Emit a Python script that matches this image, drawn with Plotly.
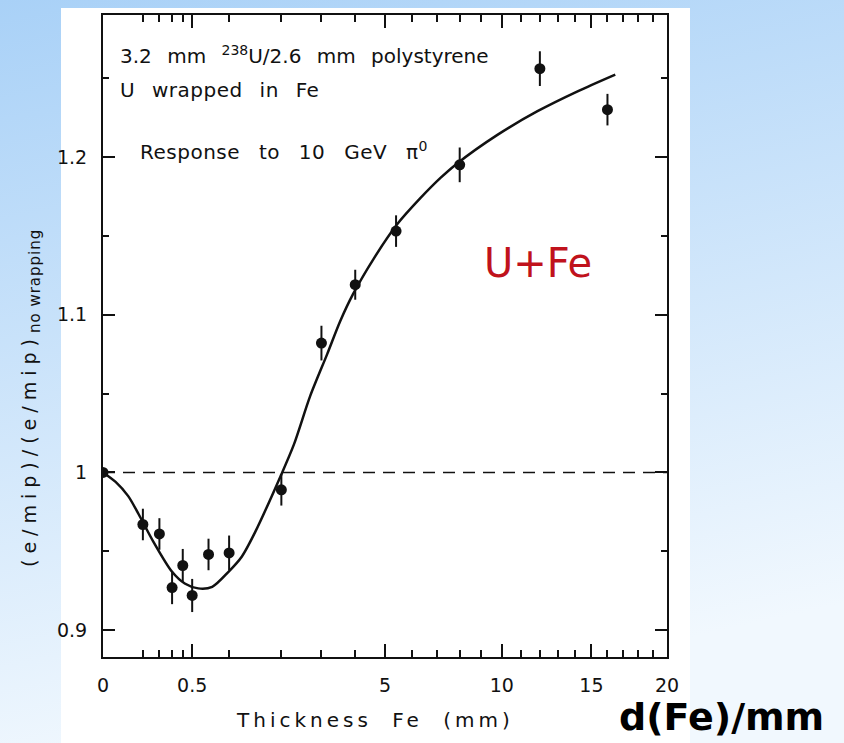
import base64
import numpy as np
import plotly.graph_objects as go

# Measured response of U/polystyrene calorimeter with Fe-wrapped uranium plates
thickness_mm = [0.0, 0.1, 0.2, 0.3, 0.4, 0.5, 0.7, 1.0, 2.0, 3.0, 4.0, 5.4, 8.0, 12.0, 16.0]
response_ratio = [1.000, 0.967, 0.961, 0.927, 0.941, 0.922, 0.948, 0.949, 0.989,
                  1.082, 1.119, 1.153, 1.195, 1.256, 1.230]
response_err = [0.0, 0.010, 0.010, 0.0105, 0.0105, 0.0105, 0.010, 0.011, 0.010,
                0.011, 0.0095, 0.010, 0.011, 0.011, 0.010]

# Smooth curve through the measurements
fit_thickness_mm = [0.0, 0.01, 0.04, 0.08, 0.16, 0.30, 0.42, 0.57, 0.75, 0.99, 1.21,
                    1.46, 1.98, 2.29, 2.70, 3.16, 3.54, 3.93, 4.61, 5.44, 6.34,
                    7.16, 7.86, 9.78, 11.87, 14.16, 16.5]
fit_ratio = [1.000, 0.994, 0.985, 0.9735, 0.956, 0.937, 0.9296, 0.9265, 0.9275, 0.937,
             0.9466, 0.9625, 0.9975, 1.0176, 1.0485, 1.075, 1.096, 1.113, 1.1356,
             1.1573, 1.174, 1.1867, 1.1956, 1.214, 1.229, 1.2416, 1.2522]

x_tick_values = [0, 0.5, 5, 10, 15, 20]
x_tick_labels = ["0", "0.5", "5", "10", "15", "20"]
x_minor_values = [0.1, 0.2, 0.3, 0.4, 1, 2, 3, 4, 6, 7, 8, 9, 11, 12, 13, 14,
                  16, 17, 18, 19]
y_tick_values = [0.9, 1.0, 1.1, 1.2]
y_tick_labels = ["0.9", "1", "1.1", "1.2"]
y_minor_values = [0.95, 1.05, 1.15, 1.25]
reference_level = 1.0

# Page geometry
W, H = 844, 743
ML, MR, MT, MB = 103, 177, 15, 86
PW, PH = W - ML - MR, H - MT - MB


def fx(px):
    return (px - ML) / PW


def fy(py):
    return (H - MB - py) / PH


# Thickness axis uses a square-root scale
def sq(v):
    return np.sqrt(np.asarray(v, dtype=float))


FONT = "DejaVu Sans"
INK = "#111111"

fig = go.Figure()

fig.add_trace(go.Scatter(
    x=sq(fit_thickness_mm), y=fit_ratio, mode="lines",
    line=dict(color=INK, width=2.5, shape="spline", smoothing=0.8),
    hoverinfo="skip", showlegend=False,
))

fig.add_trace(go.Scatter(
    x=sq(thickness_mm), y=response_ratio, mode="markers",
    marker=dict(color=INK, size=11),
    error_y=dict(type="data", array=response_err, color=INK, thickness=2, width=0),
    showlegend=False,
))

# Slide background gradient behind the scanned figure
svg = ('<svg xmlns="http://www.w3.org/2000/svg" width="844" height="743">'
       '<defs><linearGradient id="g" x1="0" y1="0" x2="0.25" y2="1">'
       '<stop offset="0" stop-color="#a9d1f7"/>'
       '<stop offset="1" stop-color="#f1f8fe"/>'
       '</linearGradient></defs>'
       '<rect width="844" height="743" fill="url(#g)"/></svg>')
bg_src = "data:image/svg+xml;base64," + base64.b64encode(svg.encode()).decode()

fig.add_layout_image(dict(
    source=bg_src, xref="paper", yref="paper",
    x=fx(0), y=fy(0), sizex=W / PW, sizey=H / PH,
    xanchor="left", yanchor="top", sizing="stretch", layer="below",
))

shapes = [
    dict(type="rect", xref="paper", yref="paper", x0=fx(61), x1=fx(690),
         y0=fy(743), y1=fy(8), fillcolor="white", line=dict(width=0), layer="below"),
    dict(type="line", xref="x", yref="y", x0=0, x1=float(sq(20)),
         y0=reference_level, y1=reference_level,
         line=dict(color=INK, width=1.5, dash="12px,8px")),
]

annotations = [
    dict(text='<span style="word-spacing:9px">3.2 mm '
              '<sup>238</sup>U/2.6 mm polystyrene</span>',
         x=fx(118), y=fy(55), xanchor="left", yanchor="middle",
         font=dict(family=FONT, size=20, color=INK)),
    dict(text='<span style="letter-spacing:0.5px;word-spacing:10px">U wrapped in Fe</span>',
         x=fx(118), y=fy(90), xanchor="left", yanchor="middle",
         font=dict(family=FONT, size=20, color=INK)),
    dict(text='<span style="letter-spacing:0.5px;word-spacing:12px">Response to 10 GeV '
              'π<sup>0</sup></span>',
         x=fx(138), y=fy(151), xanchor="left", yanchor="middle",
         font=dict(family=FONT, size=20, color=INK)),
    dict(text='<span style="letter-spacing:4px;word-spacing:10px">Thickness Fe (mm)</span>',
         x=fx(375), y=fy(720), xanchor="center", yanchor="middle",
         font=dict(family=FONT, size=20, color=INK)),
    dict(text='<span style="letter-spacing:6px">(e/mip)/(e/mip)</span>'
              '<sub><span style="font-size:15px;letter-spacing:1px">no wrapping</span></sub>',
         x=fx(31), y=fy(398), xanchor="center", yanchor="middle", textangle=-90,
         font=dict(family=FONT, size=19, color=INK)),
    dict(text="U+Fe", x=fx(538), y=fy(263), xanchor="center", yanchor="middle",
         font=dict(family=FONT, size=40, color="#c0121c")),
    dict(text="<b>d(Fe)/mm</b>", x=fx(721), y=fy(717), xanchor="center", yanchor="middle",
         font=dict(family=FONT, size=38, color="#000000")),
]
for a in annotations:
    a.update(xref="paper", yref="paper", showarrow=False)

axis_common = dict(
    showline=True, linecolor=INK, linewidth=2, mirror="ticks",
    ticks="inside", tickcolor=INK, tickwidth=1.5,
    showgrid=False, zeroline=False,
    tickfont=dict(family=FONT, size=19, color=INK),
)

fig.update_layout(
    width=W, height=H,
    margin=dict(l=ML, r=MR, t=MT, b=MB),
    paper_bgcolor="white", plot_bgcolor="white",
    shapes=shapes, annotations=annotations,
    xaxis=dict(
        range=[0, float(sq(20))],
        tickvals=sq(x_tick_values), ticktext=x_tick_labels, ticklen=13,
        ticklabelstandoff=10,
        minor=dict(tickvals=sq(x_minor_values), ticks="inside", ticklen=7,
                   tickwidth=1.5, tickcolor=INK, showgrid=False),
        **axis_common,
    ),
    yaxis=dict(
        range=[0.883, 1.29],
        tickvals=y_tick_values, ticktext=y_tick_labels, ticklen=12,
        ticklabelstandoff=10,
        minor=dict(tickvals=y_minor_values, ticks="inside", ticklen=6,
                   tickwidth=1.5, tickcolor=INK, showgrid=False),
        **axis_common,
    ),
)

fig.write_html("out.html")
